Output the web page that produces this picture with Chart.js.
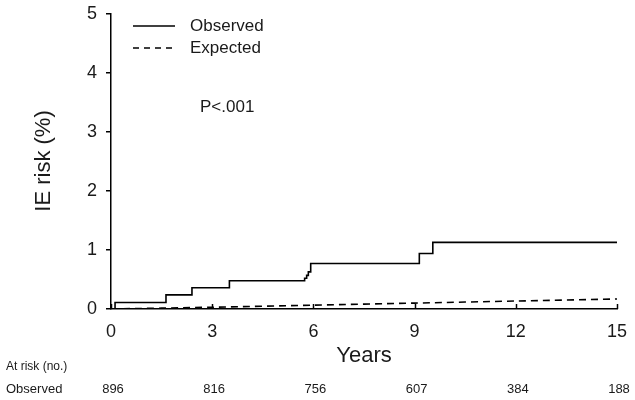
<!DOCTYPE html>
<html>
<head>
<meta charset="utf-8">
<script src="https://cdn.jsdelivr.net/npm/chart.js@4"></script>
<style>
  html, body { margin: 0; padding: 0; background: #fff; }
  #wrap { width: 635px; height: 400px; }
</style>
</head>
<body>
<div id="wrap"><canvas id="km"></canvas></div>
<script>
// observed cumulative risk (step at each event time)
const obsYears = [0, 0.12, 1.63, 2.4, 3.51, 5.74, 5.8, 5.85, 5.92, 9.14, 9.54, 15.0];
const obsRisk  = [0, 0.11, 0.24, 0.36, 0.48, 0.52, 0.57, 0.63, 0.77, 0.94, 1.13, 1.13];
// expected risk
const expYears = [0, 3, 6, 9, 12, 15];
const expRisk  = [0, 0.03, 0.065, 0.1, 0.135, 0.17];
// numbers at risk
const riskYears = [0, 3, 6, 9, 12, 15];
const atRisk = [896, 816, 756, 607, 384, 188];

const FONT = 'Liberation Sans, Arial, sans-serif';
const INK = '#1a1a1a';

const toPts = (xs, ys) => xs.map((x, i) => ({x: x, y: ys[i]}));

// draws legend, titles, p value, inward x ticks and the at-risk table
const extras = {
  id: 'extras',
  afterDraw(chart) {
    const ctx = chart.ctx;
    const xs = chart.scales.x;
    const area = chart.chartArea;
    ctx.save();
    ctx.fillStyle = INK;
    ctx.strokeStyle = '#000';
    ctx.lineWidth = 1.5;

    // x ticks point up into the plot
    xs.ticks.forEach(t => {
      const px = Math.round(xs.getPixelForValue(t.value)) + 0.5;
      ctx.beginPath(); ctx.moveTo(px, area.bottom); ctx.lineTo(px, area.bottom - 5); ctx.stroke();
    });

    // legend
    ctx.beginPath(); ctx.moveTo(133, 26); ctx.lineTo(175, 26); ctx.stroke();
    ctx.setLineDash([6, 5]);
    ctx.beginPath(); ctx.moveTo(133, 48); ctx.lineTo(175, 48); ctx.stroke();
    ctx.setLineDash([]);
    ctx.font = '17px ' + FONT;
    ctx.textAlign = 'left'; ctx.textBaseline = 'middle';
    ctx.fillText('Observed', 190, 26);
    ctx.fillText('Expected', 190, 48);
    ctx.fillText('P<.001', 200, 107);

    // axis titles
    ctx.font = '22px ' + FONT;
    ctx.textAlign = 'center';
    ctx.fillText('Years', 364, 356);
    ctx.save();
    ctx.translate(44, 161);
    ctx.rotate(-Math.PI / 2);
    ctx.fillText('IE risk (%)', 0, 0);
    ctx.restore();

    // at risk table
    ctx.font = '12px ' + FONT;
    ctx.textAlign = 'left';
    ctx.fillText('At risk (no.)', 6, 367);
    ctx.font = '13px ' + FONT;
    ctx.fillText('Observed', 6, 389);
    ctx.textAlign = 'center';
    riskYears.forEach((yr, i) => {
      ctx.fillText(String(atRisk[i]), xs.getPixelForValue(yr) + 2, 389);
    });
    ctx.restore();
  }
};

new Chart(document.getElementById('km'), {
  type: 'scatter',
  data: {
    datasets: [
      {
        label: 'Observed',
        data: toPts(obsYears, obsRisk),
        showLine: true,
        stepped: 'before',
        borderColor: '#000',
        borderWidth: 1.6,
        pointRadius: 0,
        fill: false
      },
      {
        label: 'Expected',
        data: toPts(expYears, expRisk),
        showLine: true,
        borderColor: '#000',
        borderWidth: 1.6,
        borderDash: [7, 5],
        pointRadius: 0,
        tension: 0.3,
        fill: false
      }
    ]
  },
  options: {
    responsive: true,
    maintainAspectRatio: false,
    animation: false,
    layout: { padding: { left: 0, right: 18, top: 14, bottom: 0 } },
    plugins: {
      legend: { display: false },
      tooltip: { enabled: false }
    },
    scales: {
      x: {
        type: 'linear',
        min: 0, max: 15,
        afterFit(s) { s.height = 91; s.paddingLeft = 0; s.paddingRight = 0; },
        border: { display: true, color: '#000', width: 1.5 },
        grid: { display: false },
        ticks: { stepSize: 3, color: INK, font: { family: FONT, size: 18 }, padding: 4, maxRotation: 0 }
      },
      y: {
        min: 0, max: 5,
        afterFit(s) { s.width = 111; s.paddingTop = 0; s.paddingBottom = 0; },
        border: { display: true, color: '#000', width: 1.5 },
        grid: { display: true, drawOnChartArea: false, drawTicks: true, tickLength: 5, color: '#000', lineWidth: 1.5 },
        ticks: { stepSize: 1, color: INK, font: { family: FONT, size: 18 }, padding: 9 }
      }
    }
  },
  plugins: [extras]
});
</script>
</body>
</html>
